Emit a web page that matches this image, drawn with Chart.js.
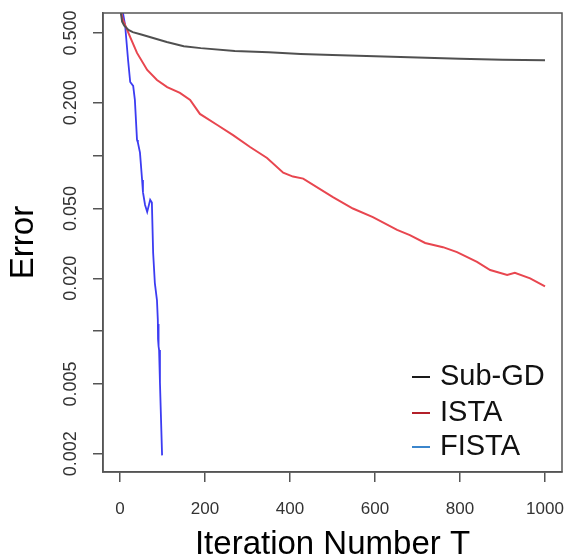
<!DOCTYPE html>
<html>
<head>
<meta charset="utf-8">
<script src="https://cdn.jsdelivr.net/npm/chart.js@4"></script>
<style>
  html, body { margin: 0; padding: 0; background: #fff; }
  #wrap { width: 567px; height: 558px; }
</style>
</head>
<body>
<div id="wrap"><canvas id="errChart" width="567" height="558"></canvas></div>
<script>
// values
const subgdIter = [1, 5, 10, 20, 30, 50, 70, 110, 150, 190, 270, 350, 425, 500, 600, 700, 800, 900, 1000];
const subgdErr  = [0.68, 0.58, 0.55, 0.52, 0.506, 0.49, 0.474, 0.444, 0.42, 0.41, 0.395, 0.388, 0.38, 0.375, 0.368, 0.362, 0.357, 0.352, 0.35];

const istaIter = [1, 7, 24, 40, 64, 87, 111, 141, 165, 188, 228, 266, 306, 346, 384, 407, 431, 501, 548, 595, 652, 682, 718, 760, 793, 840, 871, 911, 929, 965, 1000];
const istaErr  = [0.68, 0.593, 0.474, 0.385, 0.308, 0.27, 0.246, 0.228, 0.208, 0.173, 0.15, 0.131, 0.112, 0.097, 0.08, 0.076, 0.074, 0.058, 0.05, 0.0447, 0.0378, 0.0353, 0.0318, 0.0301, 0.0282, 0.0248, 0.0223, 0.0209, 0.0215, 0.02, 0.018];

const fistaIter = [1, 7, 12, 19, 24, 31, 35, 40, 42, 47, 52, 54, 59, 64, 71, 75, 78, 82, 87, 89, 89.5, 90, 90.5, 91, 91.5, 92, 94, 99];
const fistaErr  = [0.68, 0.65, 0.555, 0.351, 0.263, 0.25, 0.208, 0.123, 0.119, 0.104, 0.0727, 0.062, 0.0524, 0.0478, 0.056, 0.054, 0.0279, 0.0188, 0.015, 0.0116, 0.009, 0.011, 0.0085, 0.0105, 0.0082, 0.0078, 0.0051, 0.00196];

const seriesNames = ['Sub-GD', 'ISTA', 'FISTA'];
const xTickValues = [0, 200, 400, 600, 800, 1000];
const yTickValues = [0.5, 0.2, 0.1, 0.05, 0.02, 0.01, 0.005, 0.002];
const yTickLabels = ['0.500', '0.200', '', '0.050', '0.020', '', '0.005', '0.002'];

const lineColors = ['#505050', '#e8464f', '#3c3cf2'];
const keyColors = ['#1a1a1a', '#b3202a', '#3b86cc'];

const toPoints = (xs, ys) => xs.map((x, i) => ({ x: x, y: ys[i] }));

const FONT = '"Liberation Sans", Arial, sans-serif';

// frame round the plot, rotated y labels and the legend
const extras = {
    id: 'extras',
    afterDraw(chart) {
        const ctx = chart.ctx;
        const a = chart.chartArea;
        ctx.save();
        ctx.strokeStyle = '#555';
        ctx.lineWidth = 1.5;
        ctx.strokeRect(a.left, a.top, a.right - a.left, a.bottom - a.top);

        const ys = chart.scales.y;
        ctx.fillStyle = '#333';
        ctx.font = '18px ' + FONT;
        ctx.textAlign = 'center';
        ctx.textBaseline = 'middle';
        yTickValues.forEach((v, i) => {
            if (!yTickLabels[i]) return;
            ctx.save();
            ctx.translate(71, ys.getPixelForValue(v));
            ctx.rotate(-Math.PI / 2);
            ctx.fillText(yTickLabels[i], 0, 0);
            ctx.restore();
        });

        ctx.font = '29px ' + FONT;
        ctx.textAlign = 'left';
        const rows = [377, 413, 447];
        seriesNames.forEach((name, i) => {
            ctx.strokeStyle = keyColors[i];
            ctx.lineWidth = 2;
            ctx.beginPath();
            ctx.moveTo(412, rows[i]);
            ctx.lineTo(430, rows[i]);
            ctx.stroke();
            ctx.fillStyle = '#111';
            ctx.fillText(name, 440, rows[i]);
        });
        ctx.restore();
    }
};

new Chart(document.getElementById('errChart'), {
    type: 'line',
    data: {
        datasets: [
            { label: seriesNames[0], data: toPoints(subgdIter, subgdErr), borderColor: lineColors[0], borderWidth: 2 },
            { label: seriesNames[1], data: toPoints(istaIter, istaErr), borderColor: lineColors[1], borderWidth: 2 },
            { label: seriesNames[2], data: toPoints(fistaIter, fistaErr), borderColor: lineColors[2], borderWidth: 1.8 }
        ]
    },
    options: {
        responsive: false,
        animation: false,
        layout: { padding: { left: 0, top: 13, right: 5, bottom: 0 } },
        elements: { point: { radius: 0 }, line: { tension: 0 } },
        plugins: { legend: { display: false }, tooltip: { enabled: false } },
        scales: {
            x: {
                type: 'linear',
                min: -40,
                max: 1040,
                afterBuildTicks: (s) => { s.ticks = xTickValues.map(v => ({ value: v })); },
                afterFit: (s) => { s.height = 86; s.paddingLeft = 0; s.paddingRight = 0; },
                grid: { drawOnChartArea: false, drawTicks: true, tickLength: 10, color: '#555', lineWidth: 1.5 },
                border: { color: '#555', width: 1.5 },
                ticks: { color: '#333', font: { family: FONT, size: 17 }, padding: 17, maxRotation: 0,
                         callback: (v) => String(v) },
                title: { display: true, text: 'Iteration Number T', color: '#000', padding: 0,
                         font: { family: FONT, size: 33, lineHeight: 0.8 } }
            },
            y: {
                type: 'logarithmic',
                min: 0.001576,
                max: 0.65,
                afterBuildTicks: (s) => { s.ticks = yTickValues.map(v => ({ value: v })); },
                afterFit: (s) => { s.width = 103; s.paddingTop = 0; s.paddingBottom = 0; },
                grid: { drawOnChartArea: false, drawTicks: true, tickLength: 10, color: '#555', lineWidth: 1.5 },
                border: { color: '#555', width: 1.5 },
                ticks: { display: false },
                title: { display: true, text: 'Error', color: '#000', padding: 0,
                         font: { family: FONT, size: 33, lineHeight: 1.45 } }
            }
        }
    },
    plugins: [extras]
});
</script>
</body>
</html>
